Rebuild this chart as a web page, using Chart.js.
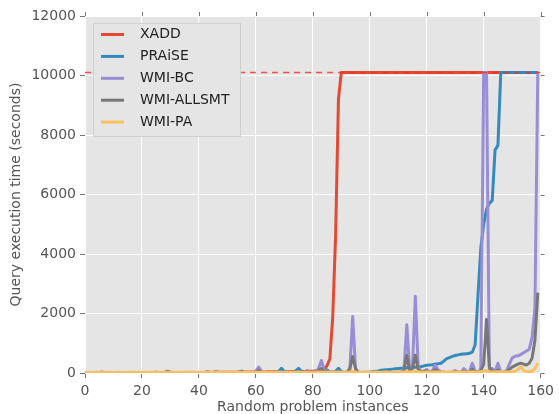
<!DOCTYPE html>
<html>
<head>
<meta charset="utf-8">
<script src="https://cdn.jsdelivr.net/npm/chart.js@4"></script>
<style>
  html, body { margin: 0; padding: 0; background: #fff; }
  #wrap { width: 559px; height: 414px; }
</style>
</head>
<body>
<div id="wrap"><canvas id="chart" width="559" height="414"></canvas></div>
<script>
// timeout value: queries that did not finish are plotted at this level
const TIMEOUT = 10100;
const T = TIMEOUT;

// problem instance index (x axis)
const instances = Array.from({ length: 160 }, (_, i) => i);

const xaddTimes = [
  5, 5, 6, 5, 7, 6, 8, 6, 7, 9, 8, 7, 10, 9, 8, 11, 10, 9, 12, 10,
  11, 12, 10, 13, 12, 14, 13, 12, 15, 14, 16, 15, 14, 17, 16, 15, 18, 17, 19, 18,
  20, 19, 21, 22, 20, 23, 22, 24, 25, 23, 26, 27, 25, 28, 30, 29, 31, 32, 30, 34,
  35, 33, 37, 36, 38, 40, 39, 42, 41, 44, 46, 45, 48, 50, 49, 52, 55, 54, 58, 60,
  62, 66, 70, 78, 100, 250, 480, 1900, 4600, 9200, T, T, T, T, T, T, T, T, T, T,
  T, T, T, T, T, T, T, T, T, T, T, T, T, T, T, T, T, T, T, T,
  T, T, T, T, T, T, T, T, T, T, T, T, T, T, T, T, T, T, T, T,
  T, T, T, T, T, T, T, T, T, T, T, T, T, T, T, T, T, T, T, T
];

const praiseTimes = [
  10, 12, 11, 10, 13, 12, 11, 14, 12, 10, 11, 13, 12, 11, 10, 12, 14, 13, 11, 12,
  13, 12, 11, 14, 12, 13, 15, 12, 11, 14, 13, 12, 11, 15, 13, 12, 14, 13, 12, 11,
  12, 14, 13, 12, 15, 13, 12, 14, 16, 13, 12, 15, 14, 13, 16, 14, 13, 15, 17, 14,
  15, 18, 14, 16, 20, 18, 17, 22, 60, 160, 40, 20, 18, 25, 70, 160, 50, 22, 20, 25,
  22, 24, 30, 40, 60, 100, 40, 30, 60, 160, 50, 20, 18, 16, 15, 14, 15, 18, 22, 28,
  35, 45, 55, 70, 90, 100, 110, 120, 130, 140, 150, 160, 170, 175, 180, 190, 195, 200, 210, 240,
  260, 270, 280, 300, 310, 330, 400, 480, 520, 560, 590, 610, 630, 640, 650, 660, 700, 950, 2600, 4200,
  5000, 5500, 5700, 5800, 7500, 7650, T, T, T, T, T, T, T, T, T, T, T, T, T, T
];

const wmiBcTimes = [
  8, 10, 9, 12, 15, 20, 30, 15, 10, 9, 8, 10, 12, 9, 8, 10, 11, 9, 8, 10,
  9, 10, 12, 11, 15, 25, 12, 10, 20, 50, 25, 12, 10, 9, 11, 10, 12, 9, 8, 10,
  11, 12, 15, 40, 20, 15, 45, 20, 12, 10, 11, 9, 12, 15, 30, 60, 25, 12, 10, 15,
  60, 200, 50, 15, 12, 10, 15, 20, 25, 40, 20, 15, 12, 10, 20, 30, 15, 20, 80, 20,
  15, 30, 150, 420, 100, 40, 30, 25, 30, 60, 30, 20, 30, 120, 1900, 120, 30, 20, 15, 12,
  10, 12, 15, 12, 10, 15, 20, 15, 12, 20, 25, 30, 80, 1620, 120, 200, 2580, 200, 40, 60,
  120, 40, 80, 270, 100, 40, 30, 20, 25, 30, 80, 40, 20, 150, 60, 40, 330, 60, 30, 150,
  T, T, 60, 150, 40, 330, 30, 40, 60, 300, 500, 560, 580, 620, 680, 740, 800, 1200, 2200, T
];

const wmiAllsmtTimes = [
  5, 6, 8, 7, 10, 12, 25, 10, 8, 7, 6, 8, 9, 7, 6, 8, 9, 7, 6, 8,
  7, 8, 9, 8, 12, 30, 10, 8, 15, 60, 30, 10, 8, 7, 9, 8, 10, 7, 6, 8,
  9, 10, 12, 35, 15, 12, 40, 15, 10, 8, 9, 7, 10, 12, 25, 60, 20, 10, 8, 12,
  30, 90, 30, 12, 10, 8, 12, 15, 20, 30, 15, 12, 10, 8, 15, 25, 12, 15, 40, 15,
  12, 20, 80, 150, 50, 25, 20, 15, 20, 40, 20, 15, 20, 150, 550, 150, 20, 15, 12, 10,
  8, 10, 12, 10, 8, 12, 15, 12, 10, 15, 20, 25, 80, 600, 80, 150, 600, 120, 40, 60,
  60, 25, 40, 120, 60, 25, 20, 15, 18, 20, 40, 25, 15, 60, 30, 25, 120, 40, 20, 60,
  300, 1800, 200, 60, 20, 100, 20, 25, 40, 120, 200, 250, 300, 330, 300, 270, 330, 500, 1100, 2700
];

const wmiPaTimes = [
  20, 22, 21, 20, 23, 22, 24, 21, 22, 20, 21, 23, 22, 21, 20, 22, 24, 23, 21, 22,
  23, 22, 21, 24, 22, 23, 25, 22, 21, 24, 23, 22, 21, 25, 23, 22, 24, 23, 22, 21,
  22, 24, 23, 22, 25, 23, 22, 24, 26, 23, 22, 25, 24, 23, 26, 24, 23, 25, 27, 24,
  25, 28, 24, 26, 25, 27, 26, 28, 27, 25, 26, 28, 27, 26, 28, 30, 27, 26, 28, 29,
  27, 28, 30, 32, 28, 27, 29, 30, 28, 27, 29, 30, 28, 35, 50, 35, 28, 27, 29, 30,
  28, 29, 30, 28, 29, 31, 30, 29, 28, 30, 31, 30, 32, 45, 35, 38, 60, 40, 30, 29,
  30, 31, 30, 35, 32, 31, 30, 29, 31, 30, 32, 31, 30, 33, 32, 31, 35, 32, 31, 40,
  70, 80, 45, 35, 32, 40, 33, 31, 32, 35, 40, 60, 120, 210, 90, 45, 40, 60, 150, 330
];

const seriesNames = ['XADD', 'PRAiSE', 'WMI-BC', 'WMI-ALLSMT', 'WMI-PA'];
const seriesColors = ['#E24A33', '#348ABD', '#988ED5', '#777777', '#FBC15E'];
const seriesTimes = [xaddTimes, praiseTimes, wmiBcTimes, wmiAllsmtTimes, wmiPaTimes];

const xTicks = [0, 20, 40, 60, 80, 100, 120, 140, 160];
const yTicks = [0, 2000, 4000, 6000, 8000, 10000, 12000];

const FONT = 'DejaVu Sans';

const toPoints = times => instances.map((x, i) => ({ x, y: times[i] }));

// later series drawn on top, like matplotlib plot order
const datasets = seriesNames.map((name, k) => ({
  label: name,
  data: toPoints(seriesTimes[k]),
  borderColor: seriesColors[k],
  backgroundColor: seriesColors[k],
  borderWidth: 3,
  order: seriesNames.length - k
}));

datasets.push({
  label: 'timeout',
  data: [{ x: 0, y: TIMEOUT }, { x: 160, y: TIMEOUT }],
  borderColor: 'rgba(255, 40, 40, 0.8)',
  borderWidth: 1.5,
  borderDash: [6, 5],
  order: 0,
  hideInLegend: true
});

const plotBackground = {
  id: 'plotBackground',
  beforeDraw(chart) {
    const { ctx, chartArea: a } = chart;
    ctx.save();
    ctx.fillStyle = '#e5e5e5';
    ctx.fillRect(a.left, a.top, a.right - a.left, a.bottom - a.top);
    ctx.restore();
  }
};

// framed legend in the upper-left corner of the plot
const boxedLegend = {
  id: 'boxedLegend',
  afterDatasetsDraw(chart) {
    const { ctx, chartArea: a } = chart;
    const items = chart.data.datasets.filter(d => !d.hideInLegend);
    const left = a.left + 8, top = a.top + 7;
    ctx.save();
    ctx.fillStyle = '#e5e5e5';
    ctx.fillRect(left, top, 147, 113);
    ctx.strokeStyle = '#d0d0d0';
    ctx.lineWidth = 1;
    ctx.strokeRect(left + 0.5, top + 0.5, 147, 113);
    ctx.font = '14px "' + FONT + '"';
    ctx.textBaseline = 'middle';
    items.forEach((d, i) => {
      const y = top + 11.5 + i * 21.9;
      ctx.strokeStyle = d.borderColor;
      ctx.lineWidth = 3;
      ctx.beginPath();
      ctx.moveTo(left + 8, y);
      ctx.lineTo(left + 31, y);
      ctx.stroke();
      ctx.fillStyle = '#222';
      ctx.fillText(d.label, left + 47, y);
    });
    ctx.restore();
  }
};

// tick marks on the top and right edges
const mirrorTicks = {
  id: 'mirrorTicks',
  afterDraw(chart) {
    const { ctx, chartArea: a, scales } = chart;
    ctx.save();
    ctx.strokeStyle = '#777';
    ctx.lineWidth = 1;
    ctx.beginPath();
    scales.x.ticks.forEach(t => {
      const px = Math.round(scales.x.getPixelForValue(t.value)) + 0.5;
      ctx.moveTo(px, a.top);
      ctx.lineTo(px, a.top - 4);
    });
    scales.y.ticks.forEach(t => {
      const py = Math.round(scales.y.getPixelForValue(t.value)) + 0.5;
      ctx.moveTo(a.right, py);
      ctx.lineTo(a.right + 4, py);
    });
    ctx.stroke();
    ctx.restore();
  }
};

new Chart(document.getElementById('chart'), {
  type: 'line',
  data: { datasets },
  options: {
    responsive: false,
    animation: false,
    devicePixelRatio: 1,
    layout: { padding: { top: 16, right: 16, left: 0, bottom: 0 } },
    plugins: { legend: { display: false }, tooltip: { enabled: false } },
    elements: {
      point: { radius: 0 },
      line: { tension: 0, borderJoinStyle: 'round' }
    },
    scales: {
      x: {
        type: 'linear',
        min: 0,
        max: 160,
        afterFit: s => { s.height = 41; },
        afterBuildTicks: s => { s.ticks = xTicks.map(v => ({ value: v })); },
        ticks: {
          color: '#555',
          font: { family: FONT, size: 14 },
          padding: 5,
          maxRotation: 0,
          callback: v => String(v)
        },
        grid: { color: '#fff', tickColor: '#777', tickLength: 5, lineWidth: 1 },
        border: { display: false },
        title: {
          display: true,
          text: 'Random problem instances',
          color: '#555',
          font: { family: FONT, size: 14, lineHeight: 1 },
          padding: { top: 0, bottom: 0 }
        }
      },
      y: {
        min: 0,
        max: 12000,
        afterFit: s => { s.width = 85; },
        afterBuildTicks: s => { s.ticks = yTicks.map(v => ({ value: v })); },
        ticks: {
          color: '#555',
          font: { family: FONT, size: 14 },
          padding: 4,
          callback: v => String(v)
        },
        grid: { color: '#fff', tickColor: '#777', tickLength: 5, lineWidth: 1 },
        border: { display: false },
        title: {
          display: true,
          text: 'Query execution time (seconds)',
          color: '#555',
          font: { family: FONT, size: 14 },
          padding: { top: 8, bottom: 0 }
        }
      }
    }
  },
  plugins: [plotBackground, boxedLegend, mirrorTicks]
});
</script>
</body>
</html>
